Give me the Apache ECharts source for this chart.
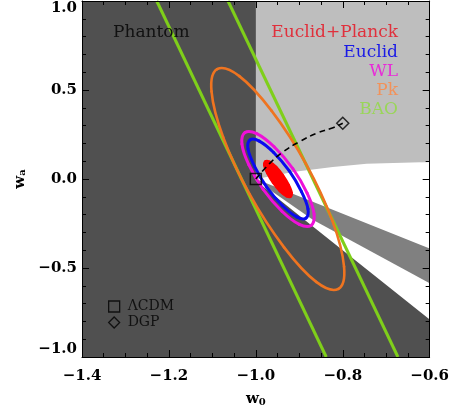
<!DOCTYPE html>
<html>
<head>
<meta charset="utf-8">
<script src="https://cdn.jsdelivr.net/npm/echarts@6/dist/echarts.min.js"></script>
<style>
html, body { margin: 0; padding: 0; background: #fff; }
#chart { width: 452px; height: 414px; }
</style>
</head>
<body>
<div id="chart"></div>
<script>
// axis ticks
var xTicks = [-1.4, -1.2, -1.0, -0.8, -0.6];
var yTicks = [-1.0, -0.5, 0.0, 0.5, 1.0];

// background regions (w0, wa)
var lightRegion = [[-1.0, 1.0], [-0.6, 1.0], [-0.6, 0.095], [-1.0, 0.0]];
var whiteRegion = [[-1.0, 0.0], [-0.95, 0.022], [-0.915, 0.04], [-0.823, 0.067], [-0.745, 0.085], [-0.6, 0.095],
                   [-0.6, -0.79], [-0.868, -0.268], [-1.0, -0.01]];
var bandRegion = [[-1.0, 0.0], [-0.6, -0.39], [-0.6, -0.585], [-0.868, -0.23], [-0.96, -0.075]];

// contours
var pkContour = [[-0.810, -0.617], [-0.861, -0.578], [-0.935, -0.384], [-1.014, -0.087], [-1.075, 0.234], [-1.102, 0.492],
                 [-1.089, 0.617], [-1.038, 0.578], [-0.964, 0.384], [-0.885, 0.087], [-0.824, -0.234], [-0.797, -0.492]];
var wlContour = [[-0.873, -0.261], [-0.900, -0.255], [-0.940, -0.181], [-0.983, -0.059], [-1.016, 0.079], [-1.032, 0.196],
                 [-1.025, 0.261], [-0.998, 0.255], [-0.958, 0.181], [-0.915, 0.059], [-0.882, -0.079], [-0.866, -0.196]];
var euclidContour = [[-0.885, -0.220], [-0.906, -0.213], [-0.939, -0.149], [-0.975, -0.045], [-1.003, 0.071], [-1.018, 0.168],
                     [-1.013, 0.220], [-0.992, 0.213], [-0.959, 0.149], [-0.923, 0.045], [-0.895, -0.071], [-0.880, -0.168]];
var planckContour = [[-0.920, -0.101], [-0.930, -0.098], [-0.945, -0.069], [-0.961, -0.021], [-0.974, 0.032], [-0.981, 0.077],
                     [-0.978, 0.101], [-0.968, 0.098], [-0.953, 0.069], [-0.937, 0.021], [-0.924, -0.032], [-0.917, -0.077]];
var baoLeft = [[-1.228, 1.0], [-0.838, -1.0]];
var baoRight = [[-1.064, 1.0], [-0.673, -1.0]];

// models
var dgpPath = [[-1.0, 0.0], [-0.968, 0.088], [-0.937, 0.153], [-0.899, 0.210], [-0.860, 0.257], [-0.826, 0.285], [-0.80, 0.313]];
var lcdmPoint = [[-1.0, 0.0]];
var dgpPoint = [[-0.80, 0.313]];

var probeNames = ['Euclid+Planck', 'Euclid', 'WL', 'Pk', 'BAO'];
var probeTextColors = ['#e0303c', '#1a1ae6', '#e82ad8', '#f2925a', '#9ad55a'];

var FONT = '"DejaVu Serif", serif';

function fmt(v) {
  return (Math.round(v * 10) / 10).toFixed(1).replace('-', '\u2212');
}

// filled polygon through the axes
function region(pts, fill, z) {
  return {
    type: 'custom', coordinateSystem: 'cartesian2d', silent: true, clip: true, z: z,
    data: [pts[0]],
    renderItem: function (params, api) {
      var p = pts.map(function (d) { return api.coord(d); });
      return { type: 'polygon', shape: { points: p }, style: { fill: fill } };
    }
  };
}

// closed smooth outline (catmull-rom as bezier pieces), optional fill underneath
function contour(pts, color, width, z, filled) {
  return {
    type: 'custom', coordinateSystem: 'cartesian2d', silent: true, clip: true, z: z,
    data: [pts[0]],
    renderItem: function (params, api) {
      var p = pts.map(function (d) { return api.coord(d); });
      var n = p.length, t = 0.175, kids = [];
      if (filled) {
        kids.push({ type: 'polygon', shape: { points: p }, style: { fill: color } });
      }
      for (var i = 0; i < n; i++) {
        var p0 = p[(i - 1 + n) % n], p1 = p[i], p2 = p[(i + 1) % n], p3 = p[(i + 2) % n];
        kids.push({
          type: 'bezierCurve',
          shape: {
            x1: p1[0], y1: p1[1], x2: p2[0], y2: p2[1],
            cpx1: p1[0] + (p2[0] - p0[0]) * t, cpy1: p1[1] + (p2[1] - p0[1]) * t,
            cpx2: p2[0] - (p3[0] - p1[0]) * t, cpy2: p2[1] - (p3[1] - p1[1]) * t
          },
          style: { stroke: color, lineWidth: width, fill: 'none', lineCap: 'round' }
        });
      }
      return { type: 'group', children: kids };
    }
  };
}

function axisX(pos, labels) {
  return {
    type: 'value', position: pos, z: 10,
    min: xTicks[0], max: xTicks[xTicks.length - 1], interval: 0.2,
    axisLine: { show: true, onZero: false, lineStyle: { color: '#000', width: 1 } },
    axisTick: { show: true, inside: true, length: 7, lineStyle: { color: '#000' } },
    minorTick: { show: true, splitNumber: 4, length: 4, lineStyle: { color: '#000' } },
    splitLine: { show: false },
    axisLabel: { show: labels, margin: 12, formatter: fmt, color: '#000', fontFamily: FONT, fontWeight: 'bold', fontSize: 15 },
    name: labels ? '{w|w}{s|0}' : '',
    nameLocation: 'middle', nameGap: 35,
    nameTextStyle: { rich: {
      w: { fontFamily: FONT, fontWeight: 'bold', fontSize: 15, color: '#000' },
      s: { fontFamily: FONT, fontWeight: 'bold', fontSize: 10, color: '#000', verticalAlign: 'bottom' }
    } }
  };
}

function axisY(pos, labels) {
  return {
    type: 'value', position: pos, z: 10,
    min: yTicks[0], max: yTicks[yTicks.length - 1], interval: 0.5,
    axisLine: { show: true, onZero: false, lineStyle: { color: '#000', width: 1 } },
    axisTick: { show: true, inside: true, length: 7, lineStyle: { color: '#000' } },
    minorTick: { show: true, splitNumber: 5, length: 4, lineStyle: { color: '#000' } },
    splitLine: { show: false },
    axisLabel: { show: labels, margin: 5, formatter: fmt, color: '#000', fontFamily: FONT, fontWeight: 'bold', fontSize: 15,
                 verticalAlignMaxLabel: 'top', verticalAlignMinLabel: 'bottom' },
    name: labels ? '{w|w}{s|a}' : '',
    nameLocation: 'middle', nameGap: 53, nameRotate: 90,
    nameTextStyle: { rich: {
      w: { fontFamily: FONT, fontWeight: 'bold', fontSize: 15, color: '#000' },
      s: { fontFamily: FONT, fontWeight: 'bold', fontSize: 10, color: '#000', verticalAlign: 'bottom' }
    } }
  };
}

var graphics = [{
  type: 'text', x: 113, y: 33, z: 20,
  style: { text: 'Phantom', fill: '#111', font: '17px ' + FONT, align: 'left', verticalAlign: 'middle' }
}];
var textY = [33, 52.5, 72, 91, 109.5];
probeNames.forEach(function (n, i) {
  graphics.push({
    type: 'text', x: 398, y: textY[i], z: 20,
    style: { text: n, fill: probeTextColors[i], font: '17px ' + FONT, align: 'right', verticalAlign: 'middle' }
  });
});

var chart = echarts.init(document.getElementById('chart'), null, { renderer: 'canvas' });
chart.setOption({
  animation: false,
  backgroundColor: '#fff',
  grid: { left: 82, right: 22, top: 1, bottom: 57, show: true, backgroundColor: '#505050', borderWidth: 0 },
  xAxis: [axisX('bottom', true), axisX('top', false)],
  yAxis: [axisY('left', true), axisY('right', false)],
  legend: {
    data: [
      { name: '\u039bCDM', icon: 'rect', itemStyle: { color: 'rgba(0,0,0,0)', borderColor: '#000', borderWidth: 1.3 } },
      { name: 'DGP', icon: 'diamond', itemStyle: { color: 'rgba(0,0,0,0)', borderColor: '#000', borderWidth: 1.3 } }
    ],
    orient: 'vertical', left: 108, top: 299.5, padding: 0,
    itemWidth: 11, itemHeight: 11, itemGap: 2,
    selectedMode: false,
    textStyle: { color: '#111', fontFamily: FONT, fontSize: 14, padding: [0, 0, 0, 3] }
  },
  graphic: graphics,
  series: [
    region(lightRegion, '#bebebe', 1),
    region(whiteRegion, '#ffffff', 1),
    region(bandRegion, '#808080', 1),
    { type: 'line', name: 'BAO', data: baoLeft, showSymbol: false, z: 3, silent: true,
      lineStyle: { color: '#7fcf1a', width: 3 } },
    { type: 'line', name: 'BAO', data: baoRight, showSymbol: false, z: 3, silent: true,
      lineStyle: { color: '#7fcf1a', width: 3 } },
    contour(pkContour, '#ef7420', 2.6, 4, false),
    contour(wlContour, '#ee11d8', 3, 5, false),
    contour(euclidContour, '#0a0af0', 3, 6, false),
    contour(planckContour, '#ff0000', 2, 7, true),
    { type: 'line', name: 'path', data: dgpPath, smooth: true, showSymbol: false, z: 8, silent: true,
      lineStyle: { color: '#000', width: 1.6, type: [6, 4] } },
    { type: 'scatter', name: '\u039bCDM', data: lcdmPoint, symbol: 'rect', symbolSize: 11, z: 9,
      itemStyle: { color: 'rgba(0,0,0,0)', borderColor: '#000', borderWidth: 1.5 } },
    { type: 'scatter', name: 'DGP', data: dgpPoint, symbol: 'diamond', symbolSize: 12, z: 9,
      itemStyle: { color: 'rgba(0,0,0,0)', borderColor: '#000', borderWidth: 1.5 } }
  ]
});
</script>
</body>
</html>
